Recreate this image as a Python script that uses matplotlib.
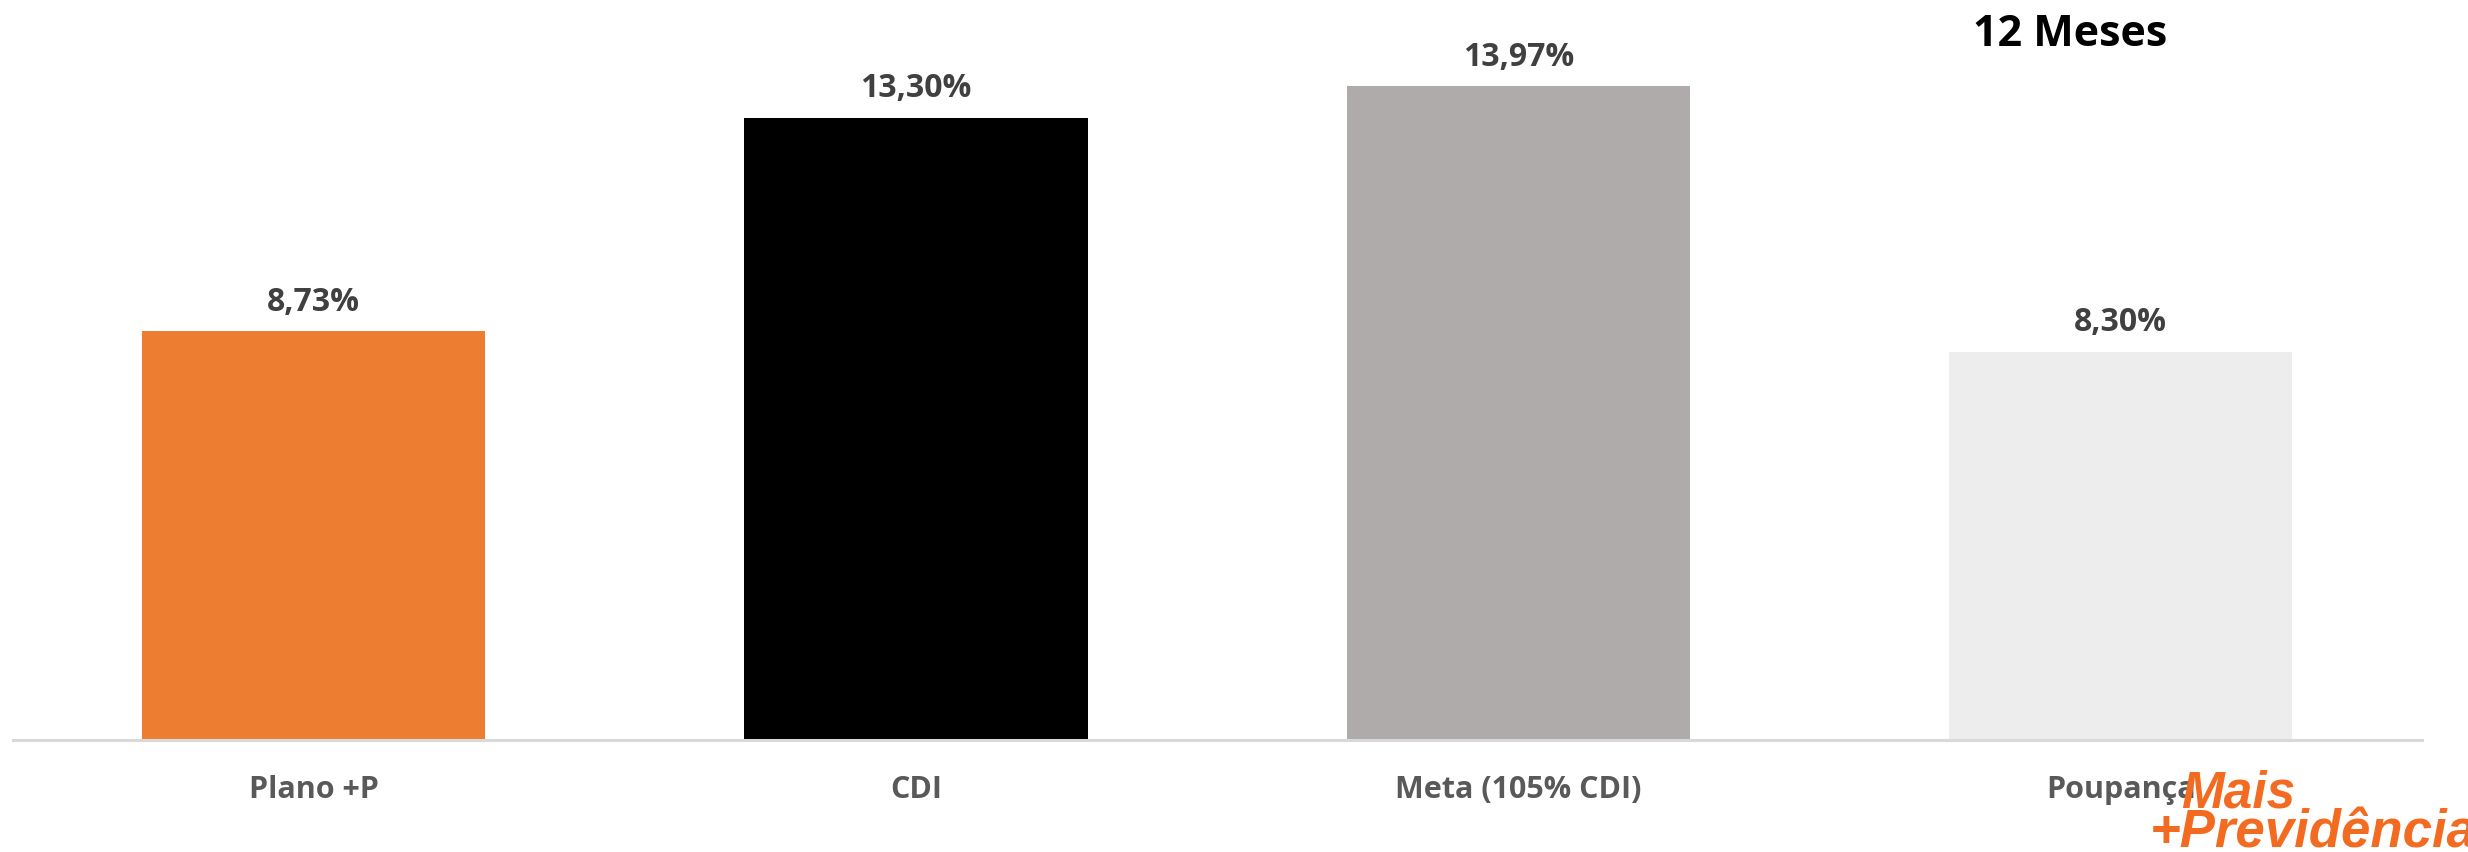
import matplotlib
matplotlib.use("Agg")
import matplotlib.pyplot as plt

# Dados do gráfico (rentabilidade em 12 meses, %)
categorias = ['Plano +P', 'CDI', 'Meta (105% CDI)', 'Poupança']
valores = [8.73, 13.30, 13.97, 8.30]
cores = ['#ED7D31', '#000000', '#AFABAB', '#EDEDED']
titulo = '12 Meses'

plt.rcParams['font.family'] = ['Open Sans', 'DejaVu Sans']

fig = plt.figure(figsize=(24.68, 8.52), dpi=100)
ax = fig.add_axes([12.5 / 2468, 112 / 852, (2422 - 12.5) / 2468, (740 - 38) / 852])

posicoes = range(len(categorias))
barras = ax.bar(posicoes, valores, width=0.57, color=cores, zorder=2)

# Rótulos com vírgula decimal
rotulos = [f'{v:.2f}%'.replace('.', ',') for v in valores]
ax.bar_label(barras, labels=rotulos, padding=9, fontsize=23, fontweight='bold', color='#404040')

ax.set_xlim(-0.5, 3.5)
ax.set_ylim(0, 15)
ax.set_xticks(list(posicoes))
ax.set_xticklabels(categorias, fontsize=22, fontweight='bold', color='#595959')
ax.tick_params(axis='x', length=0, pad=25)
ax.set_yticks([])

for lado in ['top', 'right', 'left']:
    ax.spines[lado].set_visible(False)
ax.spines['bottom'].set_color('#D9D9D9')
ax.spines['bottom'].set_linewidth(2.2)
ax.spines['bottom'].set_zorder(3)

fig.text(2070 / 2468, 1 - 34 / 852, titulo, fontsize=31, fontweight='bold',
         color='black', ha='center', va='center')

# Logo "Mais +Previdência"
fig.text(2238 / 2468, 1 - 808 / 852, 'Mais', fontsize=37, fontweight='bold', style='italic',
         color='#F26B21', ha='center', va='baseline', family='Liberation Sans')
fig.text(2150 / 2468, 1 - 848 / 852, '+Previdência', fontsize=38, fontweight='bold', style='italic',
         color='#F26B21', ha='left', va='baseline', family='Liberation Sans')

fig.savefig('out.png', dpi=100)
